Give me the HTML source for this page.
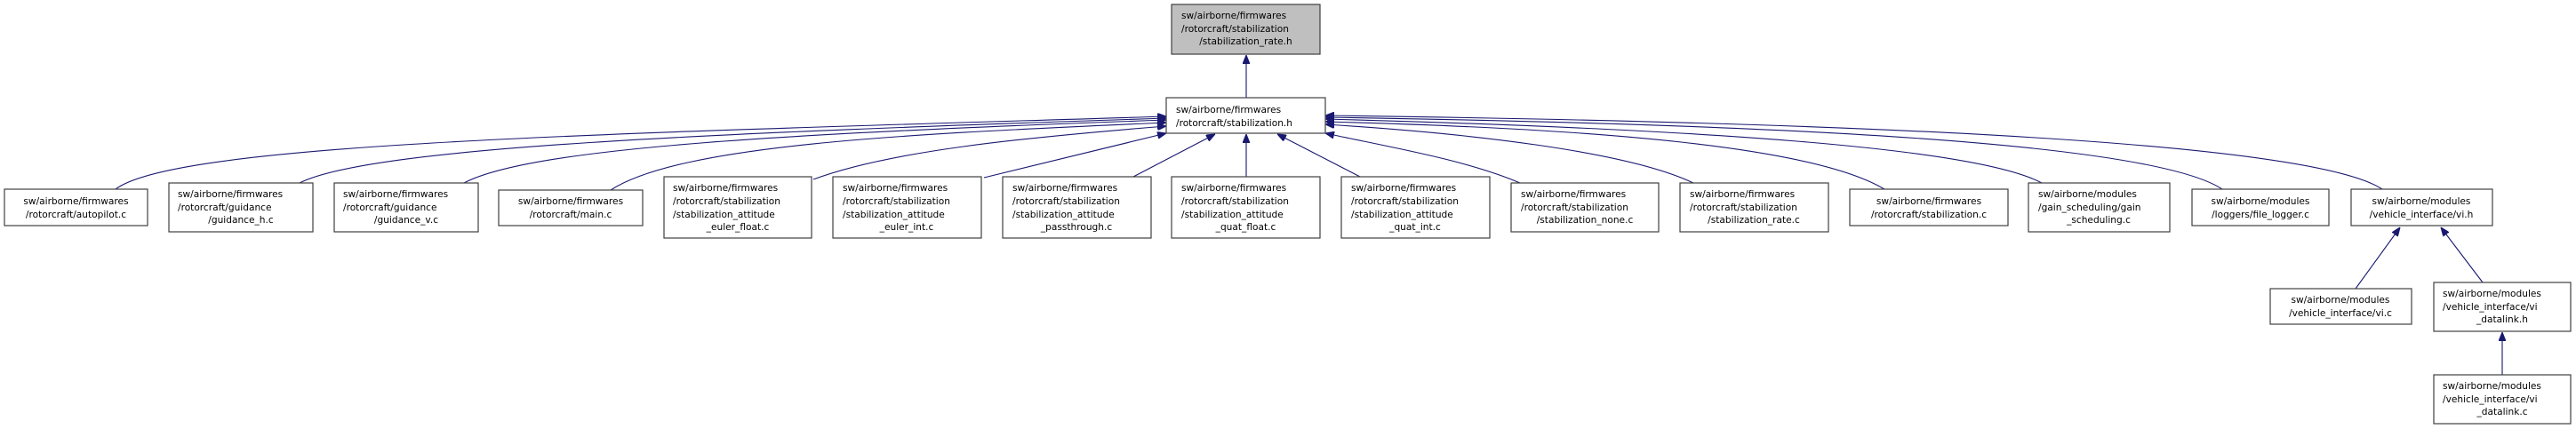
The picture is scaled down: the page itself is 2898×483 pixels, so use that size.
<!DOCTYPE html>
<html><head><meta charset="utf-8"><style>
html,body{margin:0;padding:0;background:#fff;}
svg{display:block;}
text{font-family:"DejaVu Sans","Liberation Sans",sans-serif;font-size:10.6px;fill:#000;}
.b{fill:#fff;stroke:#404040;stroke-width:1.2;}
.e{fill:none;stroke:#191970;stroke-width:1.1;}
</style></head><body>
<svg width="2898" height="483" viewBox="0 0 2898 483" xmlns="http://www.w3.org/2000/svg">
<defs><marker id="a" viewBox="0 0 10 8" refX="10" refY="4" markerWidth="10" markerHeight="8" markerUnits="userSpaceOnUse" orient="auto"><path d="M0,0L10,4L0,8z" fill="#191970" stroke="#191970"/></marker></defs>

<!-- edges -->
<path class="e" marker-end="url(#a)" d="M1402,110L1402,62"/>
<path class="e" marker-end="url(#a)" d="M130,213C200,160 700,150 1312,131"/>
<path class="e" marker-end="url(#a)" d="M337,206C420,165 800,150 1312,133"/>
<path class="e" marker-end="url(#a)" d="M522,206C600,165 900,150 1312,135"/>
<path class="e" marker-end="url(#a)" d="M687,214C770,160 1050,150 1312,138"/>
<path class="e" marker-end="url(#a)" d="M915,202C1000,170 1150,155 1312,142"/>
<path class="e" marker-end="url(#a)" d="M1107,200L1312,150"/>
<path class="e" marker-end="url(#a)" d="M1275,199L1367,151"/>
<path class="e" marker-end="url(#a)" d="M1402,199L1402,151"/>
<path class="e" marker-end="url(#a)" d="M1530,199L1437,151"/>
<path class="e" marker-end="url(#a)" d="M1710,206C1650,180 1560,165 1491,150"/>
<path class="e" marker-end="url(#a)" d="M1905,206C1830,170 1650,150 1491,140"/>
<path class="e" marker-end="url(#a)" d="M2120,213C2040,165 1800,145 1491,137"/>
<path class="e" marker-end="url(#a)" d="M2297,206C2220,165 1900,145 1491,134"/>
<path class="e" marker-end="url(#a)" d="M2500,213C2420,160 2000,140 1491,132"/>
<path class="e" marker-end="url(#a)" d="M2680,213C2600,160 2100,138 1491,130"/>
<path class="e" marker-end="url(#a)" d="M2650,325L2700,256"/>
<path class="e" marker-end="url(#a)" d="M2793,318L2746,256"/>
<path class="e" marker-end="url(#a)" d="M2815,422L2815,374"/>

<!-- nodes -->
<rect x="1318" y="5" width="167" height="56" style="fill:#bfbfbf;stroke:#404040;stroke-width:1.2"/>
<text x="1329" y="21">sw/airborne/firmwares</text><text x="1329" y="36">/rotorcraft/stabilization</text><text x="1401.5" y="50" text-anchor="middle">/stabilization_rate.h</text>

<rect class="b" x="1312" y="110" width="179" height="40"/>
<text x="1323" y="127">sw/airborne/firmwares</text><text x="1323" y="142">/rotorcraft/stabilization.h</text>

<rect class="b" x="5" y="213" width="161" height="41"/>
<text x="85.5" y="230" text-anchor="middle">sw/airborne/firmwares</text><text x="85.5" y="245" text-anchor="middle">/rotorcraft/autopilot.c</text>

<rect class="b" x="190" y="206" width="162" height="55"/>
<text x="200" y="222">sw/airborne/firmwares</text><text x="200" y="237">/rotorcraft/guidance</text><text x="271" y="251" text-anchor="middle">/guidance_h.c</text>

<rect class="b" x="376" y="206" width="162" height="55"/>
<text x="386" y="222">sw/airborne/firmwares</text><text x="386" y="237">/rotorcraft/guidance</text><text x="457" y="251" text-anchor="middle">/guidance_v.c</text>

<rect class="b" x="561" y="214" width="162" height="40"/>
<text x="642" y="230" text-anchor="middle">sw/airborne/firmwares</text><text x="642" y="245" text-anchor="middle">/rotorcraft/main.c</text>

<rect class="b" x="747" y="199" width="166" height="69"/>
<text x="757" y="215">sw/airborne/firmwares</text><text x="757" y="230">/rotorcraft/stabilization</text><text x="757" y="245">/stabilization_attitude</text><text x="830" y="259" text-anchor="middle">_euler_float.c</text>

<rect class="b" x="937" y="199" width="167" height="69"/>
<text x="948" y="215">sw/airborne/firmwares</text><text x="948" y="230">/rotorcraft/stabilization</text><text x="948" y="245">/stabilization_attitude</text><text x="1020" y="259" text-anchor="middle">_euler_int.c</text>

<rect class="b" x="1128" y="199" width="167" height="69"/>
<text x="1139" y="215">sw/airborne/firmwares</text><text x="1139" y="230">/rotorcraft/stabilization</text><text x="1139" y="245">/stabilization_attitude</text><text x="1211" y="259" text-anchor="middle">_passthrough.c</text>

<rect class="b" x="1318" y="199" width="167" height="69"/>
<text x="1329" y="215">sw/airborne/firmwares</text><text x="1329" y="230">/rotorcraft/stabilization</text><text x="1329" y="245">/stabilization_attitude</text><text x="1401.5" y="259" text-anchor="middle">_quat_float.c</text>

<rect class="b" x="1509" y="199" width="167" height="69"/>
<text x="1520" y="215">sw/airborne/firmwares</text><text x="1520" y="230">/rotorcraft/stabilization</text><text x="1520" y="245">/stabilization_attitude</text><text x="1592" y="259" text-anchor="middle">_quat_int.c</text>

<rect class="b" x="1700" y="206" width="166" height="55"/>
<text x="1711" y="222">sw/airborne/firmwares</text><text x="1711" y="237">/rotorcraft/stabilization</text><text x="1783" y="251" text-anchor="middle">/stabilization_none.c</text>

<rect class="b" x="1890" y="206" width="167" height="55"/>
<text x="1901" y="222">sw/airborne/firmwares</text><text x="1901" y="237">/rotorcraft/stabilization</text><text x="1973" y="251" text-anchor="middle">/stabilization_rate.c</text>

<rect class="b" x="2081" y="213" width="178" height="41"/>
<text x="2170" y="230" text-anchor="middle">sw/airborne/firmwares</text><text x="2170" y="245" text-anchor="middle">/rotorcraft/stabilization.c</text>

<rect class="b" x="2282" y="206" width="159" height="55"/>
<text x="2293" y="222">sw/airborne/modules</text><text x="2293" y="237">/gain_scheduling/gain</text><text x="2361" y="251" text-anchor="middle">_scheduling.c</text>

<rect class="b" x="2466" y="213" width="154" height="41"/>
<text x="2543" y="230" text-anchor="middle">sw/airborne/modules</text><text x="2543" y="245" text-anchor="middle">/loggers/file_logger.c</text>

<rect class="b" x="2645" y="213" width="159" height="41"/>
<text x="2724" y="230" text-anchor="middle">sw/airborne/modules</text><text x="2724" y="245" text-anchor="middle">/vehicle_interface/vi.h</text>

<rect class="b" x="2554" y="325" width="159" height="40"/>
<text x="2633" y="341" text-anchor="middle">sw/airborne/modules</text><text x="2633" y="356" text-anchor="middle">/vehicle_interface/vi.c</text>

<rect class="b" x="2738" y="318" width="154" height="55"/>
<text x="2748" y="334">sw/airborne/modules</text><text x="2748" y="349">/vehicle_interface/vi</text><text x="2815" y="363" text-anchor="middle">_datalink.h</text>

<rect class="b" x="2738" y="422" width="154" height="55"/>
<text x="2748" y="438">sw/airborne/modules</text><text x="2748" y="453">/vehicle_interface/vi</text><text x="2815" y="467" text-anchor="middle">_datalink.c</text>
</svg>
</body></html>
